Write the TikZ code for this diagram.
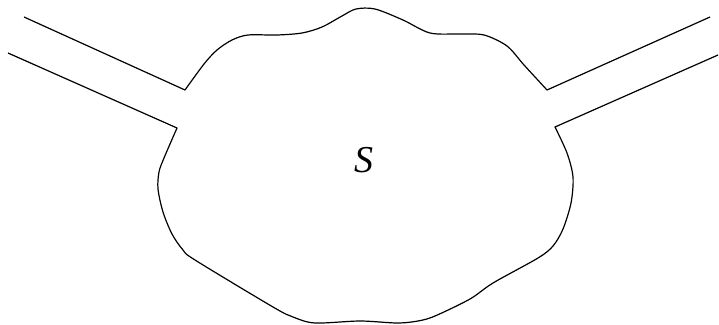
\documentclass[tikz,border=0pt]{standalone}
\usepackage{fontspec}
\setmainfont{Liberation Serif}

\begin{document}
\begin{tikzpicture}[x=1pt, y=-1pt, wall/.style={line width=1.2pt, line join=round}]
    \useasboundingbox (0,0) rectangle (719,324);
    % upper wall with both inlet channels
    \draw[wall] (24,17) -- (185,90) -- plot[smooth, tension=0.5] coordinates {(185,90) (204,64) (217,50) (232,40) (248,35) (277,35) (302,33) (322,27) (342,16) (356,9) (375,9) (403,20) (430,33) (460,34) (484,35) (507,46) (524,65) (547,90)} -- (710,17);
    % lower wall
    \draw[wall] (718,55) -- (555,127) -- plot[smooth, tension=0.5] coordinates {(555,127) (567,153) (573,177) (571,203) (563,229) (553,246) (538,258) (493,283) (470,299) (435,316) (418,321) (397,323) (360,321) (315,323) (293,317) (273,307) (195,260) (183,250) (172,234) (163,212) (158,189) (159,172) (164,158) (177,128)} -- (8,53);
    \node (label) at (364,160) {\fontsize{38}{38}\selectfont\itshape S};
\end{tikzpicture}
\end{document}
